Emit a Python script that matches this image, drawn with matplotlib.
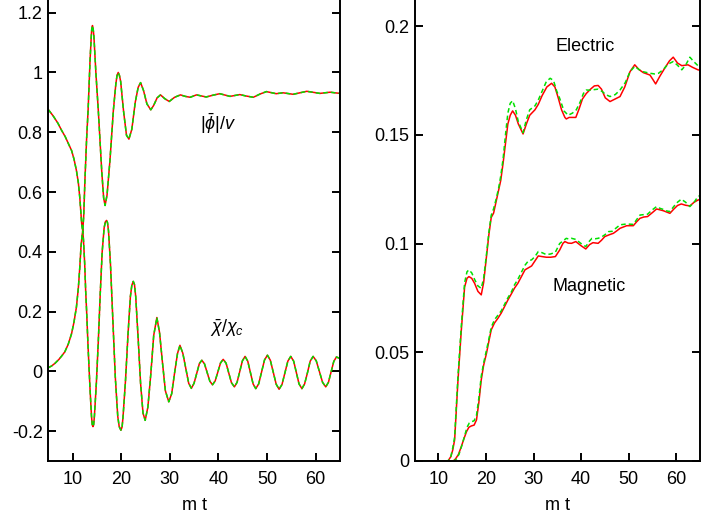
import matplotlib
matplotlib.use("Agg")
import matplotlib.pyplot as plt
from matplotlib.ticker import FormatStrFormatter

plt.rcParams['font.family'] = ['Liberation Sans Narrow', 'Liberation Sans', 'DejaVu Sans']
plt.rcParams['mathtext.fontset'] = 'custom'
plt.rcParams['mathtext.rm'] = 'Liberation Sans'
plt.rcParams['mathtext.it'] = 'Liberation Sans:italic'
plt.rcParams['axes.unicode_minus'] = False

# ---- left panel: |phi|/v and chi/chi_c vs m t ----
t_phi = [5, 6, 7, 7.76, 8.5, 9.2, 9.8, 10.3, 10.8, 11.2, 11.5, 11.9, 12.1, 12.3, 12.55,
         12.9, 13.2, 13.6, 13.85, 13.95, 14.1, 14.25, 14.4, 14.8, 15.3, 16.0, 16.4, 16.7,
         17.1, 17.7, 18.4, 18.9, 19.15, 19.4, 19.65, 19.9, 20.5, 21.1, 21.6, 22.2, 22.9,
         23.5, 24.0, 24.6, 25.3, 26.1, 26.7, 27.4, 28.1, 29.0, 29.9, 31.0, 32.2, 33.2, 34.2,
         35.5, 37.5, 38.9, 40.3, 42.4, 44.4, 45.8, 47.2, 48.6, 49.9, 51.9, 53.3, 55.4, 58.2,
         60.9, 63.0, 65]
phi = [0.876, 0.855, 0.83, 0.806, 0.785, 0.76, 0.739, 0.71, 0.672, 0.63, 0.58, 0.49, 0.47,
       0.52, 0.64, 0.78, 0.873, 1.04, 1.12, 1.145, 1.157, 1.145, 1.12, 1.0, 0.873, 0.672,
       0.58, 0.555, 0.59, 0.706, 0.873, 0.96, 0.99, 1.0, 0.99, 0.97, 0.87, 0.79, 0.777,
       0.81, 0.9, 0.95, 0.966, 0.94, 0.895, 0.875, 0.89, 0.915, 0.925, 0.912, 0.903, 0.917,
       0.925, 0.92, 0.917, 0.925, 0.918, 0.924, 0.929, 0.92, 0.926, 0.921, 0.917, 0.928,
       0.936, 0.929, 0.932, 0.927, 0.937, 0.93, 0.934, 0.93]

t_chi = [5, 5.7, 6.4, 7.2, 7.8, 8.4, 9.1, 9.8, 10.3, 10.8, 11.2, 11.5, 11.75, 12.0, 12.1,
         12.25, 12.5, 12.7, 12.9, 13.2, 13.6, 13.9, 14.05, 14.2, 14.35, 14.5, 14.9, 15.3,
         15.7, 16.1, 16.5, 16.75, 17.0, 17.2, 17.4, 17.8, 18.3, 18.8, 19.3, 19.6, 19.95,
         20.2, 20.4, 20.9, 21.4, 21.9, 22.2, 22.5, 22.75, 23.0, 23.5, 24.0, 24.5, 24.95,
         25.5, 26.1, 26.7, 27.35, 27.9, 28.5, 29.1, 29.8, 30.4, 31.0, 31.6, 32.1, 32.7, 33.3,
         33.9, 34.45, 35.0, 35.5, 36.1, 36.6,
         37.15, 37.7, 38.25, 38.8, 39.35, 39.9, 40.45, 41.0, 41.6, 42.15, 42.7, 43.3,
         43.85, 44.4, 44.95, 45.5, 46.05, 46.6, 47.15, 47.7, 48.3, 48.9, 49.5, 50.1,
         50.7, 51.3, 51.9, 52.5, 53.1, 53.7, 54.3, 54.9, 55.5, 56.05, 56.6, 57.2,
         57.75, 58.35, 58.9, 59.5, 60.15, 60.8, 61.45, 62.1, 62.65, 63.2, 63.75, 64.3, 65]
chi = [0.012, 0.018, 0.027, 0.04, 0.052, 0.065, 0.09, 0.126, 0.165, 0.215, 0.28, 0.35,
       0.42, 0.46, 0.47, 0.44, 0.36, 0.27, 0.2, 0.08, -0.06, -0.15, -0.178, -0.185, -0.178,
       -0.15, -0.04, 0.1, 0.26, 0.4, 0.48, 0.5, 0.505, 0.497, 0.47, 0.36, 0.17, -0.02,
       -0.15, -0.185, -0.197, -0.186, -0.15, -0.03, 0.12, 0.25, 0.288, 0.301, 0.29, 0.25,
       0.11, -0.04, -0.14, -0.164, -0.12, -0.01, 0.12, 0.18, 0.13, 0.03, -0.065, -0.102,
       -0.075, -0.005, 0.06, 0.087, 0.06, 0.01, -0.04, -0.057, -0.04, -0.01, 0.026, 0.037,
       0.025, -0.004, -0.033, -0.045, -0.032, -0.002, 0.028, 0.040, 0.027, -0.006, -0.038,
       -0.052, -0.037, -0.001, 0.035, 0.050, 0.034, -0.004, -0.042, -0.058, -0.042, -0.002,
       0.038, 0.054, 0.037, -0.003, -0.043, -0.060, -0.044, -0.005, 0.034, 0.050, 0.034,
       -0.004, -0.042, -0.058, -0.042, -0.004, 0.034, 0.050, 0.035, -0.001, -0.037, -0.052,
       -0.037, -0.002, 0.033, 0.048, 0.043]

# ---- right panel: electric and magnetic energies (red solid, green dashed) ----
t_el_red = [5, 12.0, 12.6, 13.0, 13.4, 14.1, 14.8, 15.5, 16.0, 16.4, 17.0, 17.6, 18.3, 19.0,
            19.5, 20.1, 20.6, 21.1, 21.6, 22.2, 22.7, 23.1, 23.6, 24.1, 24.6, 25.1, 25.6,
            26.2, 26.8, 27.8, 28.5, 29.2, 30.3, 31.0, 31.8, 32.8, 33.8, 34.5, 35.2, 35.9,
            36.6, 36.9, 37.5, 38.3, 38.9, 39.6, 40.3, 41.1, 42.0, 42.8, 43.6, 44.3, 45.1,
            46.1, 47.2, 48.2, 49.2, 50.3, 51.3, 52.2, 53.1, 54.5, 55.1, 55.7, 56.6, 57.6,
            58.6, 59.4, 60.3, 61.2, 61.9, 62.5, 63.5, 64.6, 65]
el_red = [0, 0, 0.002, 0.005, 0.0097, 0.037, 0.060, 0.080, 0.0840, 0.0848, 0.0840, 0.0817,
          0.078, 0.0764, 0.082, 0.094, 0.104, 0.112, 0.114, 0.12, 0.125, 0.129, 0.137, 0.146,
          0.155, 0.159, 0.161, 0.159, 0.155, 0.1504, 0.155, 0.159, 0.1615, 0.164, 0.168,
          0.172, 0.1737, 0.172, 0.167, 0.1615, 0.158, 0.1573, 0.158, 0.158, 0.158, 0.162,
          0.1665, 0.169, 0.171, 0.1725, 0.1727, 0.171, 0.167, 0.1653, 0.1665, 0.1676, 0.172,
          0.179, 0.1822, 0.180, 0.1786, 0.1775, 0.1755, 0.1734, 0.177, 0.1806, 0.184, 0.1857,
          0.183, 0.1818, 0.182, 0.1822, 0.181, 0.1799, 0.1797]

t_el_green = [5, 12.0, 12.6, 13.0, 13.4, 14.1, 14.8, 15.5, 16.0, 16.4, 17.0, 17.6, 18.3, 19.0,
              19.5, 20.1, 20.6, 21.1, 21.6, 22.2, 22.7, 23.1, 23.6, 24.1, 24.6, 25.1, 25.6,
              26.2, 26.8, 27.8, 28.5, 29.2, 30.3, 31.0, 31.8, 32.7, 33.5, 34.2, 34.9, 35.5,
              36.4, 37.3, 38.2, 39.0, 39.8, 40.5, 41.1, 42.0, 42.8, 43.6, 44.4, 45.2, 46.1,
              47.2, 48.2, 49.3, 50.3, 51.3, 52.2, 53.1, 54.5, 55.5, 56.3, 57.3, 58.3, 59.4,
              60.3, 61.2, 62.0, 62.9, 63.8, 64.6, 65]
el_green = [0, 0, 0.002, 0.006, 0.011, 0.039, 0.062, 0.082, 0.087, 0.0879, 0.0865, 0.0835,
            0.0805, 0.0794, 0.084, 0.095, 0.105, 0.113, 0.116, 0.121, 0.126, 0.131, 0.139,
            0.150, 0.160, 0.1645, 0.1657, 0.162, 0.156, 0.151, 0.157, 0.1615, 0.1633, 0.166,
            0.170, 0.1745, 0.176, 0.175, 0.170, 0.1668, 0.161, 0.159, 0.160, 0.1615, 0.165,
            0.169, 0.1706, 0.1705, 0.1708, 0.171, 0.170, 0.1685, 0.1676, 0.1685, 0.1706, 0.174,
            0.179, 0.1815, 0.180, 0.179, 0.1783, 0.178, 0.1783, 0.180, 0.1825, 0.1837, 0.182,
            0.1799, 0.182, 0.1857, 0.1835, 0.1818, 0.181]

t_mag_red = [5, 13.1, 13.6, 14.2, 14.8, 15.4, 15.9, 16.4, 16.9, 17.5, 18.0, 18.5, 19.0, 19.5,
             20.1, 20.6, 21.1, 21.8, 22.5, 23.2, 23.9, 24.6, 25.4, 26.0, 26.7, 27.5, 28.2,
             28.9, 29.6, 30.3, 31.0, 31.8, 32.7, 33.6, 34.6, 35.5, 36.2, 36.6, 37.3, 38.0,
             38.9, 40.0, 41.0, 41.8, 42.5, 43.6, 44.3, 45.0, 45.9, 46.8, 47.5, 48.2, 49.6,
             51.0, 51.7, 52.4, 53.2, 54.0, 55.0, 55.9, 56.6, 57.3, 58.0, 58.7, 59.5, 60.3,
             61.1, 62.0, 62.9, 63.8, 64.6, 65]
mag_red = [0, 0, 0.001, 0.003, 0.0066, 0.0105, 0.0135, 0.0155, 0.0161, 0.0165, 0.0189, 0.027,
           0.0373, 0.044, 0.0495, 0.055, 0.0603, 0.0635, 0.0656, 0.068, 0.071, 0.074, 0.0771,
           0.0795, 0.0817, 0.085, 0.0879, 0.0888, 0.0897, 0.092, 0.0943, 0.094, 0.0937, 0.0937,
           0.094, 0.097, 0.1001, 0.1009, 0.1002, 0.1001, 0.1009, 0.099, 0.0975, 0.0995, 0.1004,
           0.1001, 0.1015, 0.1032, 0.104, 0.1047, 0.1058, 0.107, 0.1082, 0.1082, 0.110, 0.1116,
           0.1122, 0.1124, 0.1142, 0.1159, 0.1155, 0.1151, 0.1145, 0.1139, 0.1158, 0.1175,
           0.1182, 0.1176, 0.1173, 0.119, 0.120, 0.1202]

t_mag_green = [5, 13.3, 13.8, 14.3, 14.9, 15.5, 16.0, 16.5, 16.9, 17.5, 18.0, 18.5, 19.0,
               19.5, 20.1, 20.6, 21.1, 21.8, 22.5, 23.2, 23.9, 24.6, 25.4, 26.0, 26.7, 27.5,
               28.2, 28.9, 29.6, 30.3, 31.0, 31.8, 32.7, 33.6, 34.6, 35.5, 36.2, 36.9, 37.5,
               38.0, 38.9, 40.0, 41.0, 41.8, 42.3, 43.0, 43.6, 44.3, 45.0, 45.8, 46.5, 47.3,
               48.2, 49.6, 51.0, 51.7, 52.4, 53.2, 54.0, 55.0, 55.9, 56.6, 57.3, 58.0, 58.7,
               59.5, 60.3, 61.1, 62.0, 62.9, 63.8, 64.6, 65]
mag_green = [0, 0, 0.001, 0.003, 0.0070, 0.0115, 0.0155, 0.0175, 0.018, 0.0185, 0.021, 0.029,
             0.039, 0.045, 0.051, 0.056, 0.0615, 0.065, 0.067, 0.069, 0.072, 0.075, 0.078,
             0.081, 0.0835, 0.087, 0.090, 0.092, 0.0925, 0.094, 0.0963, 0.0958, 0.0949, 0.0952,
             0.096, 0.100, 0.1012, 0.1024, 0.102, 0.1024, 0.1019, 0.100, 0.0986, 0.1012, 0.1024,
             0.1022, 0.1024, 0.103, 0.104, 0.1055, 0.1056, 0.107, 0.1086, 0.109, 0.1088, 0.111,
             0.1131, 0.1133, 0.1135, 0.1155, 0.117, 0.1162, 0.1157, 0.115, 0.1147, 0.117, 0.119,
             0.1204, 0.119, 0.117, 0.119, 0.1216, 0.122]

RED = '#ff0000'
GREEN = '#00e000'
LW = 1.1
DASH = (0, (3, 2))

fig = plt.figure(figsize=(7.2, 5.2), dpi=100)
ax1 = fig.add_axes([0.067, 0.1135, 0.405, 0.8865])
ax2 = fig.add_axes([0.576, 0.1135, 0.396, 0.8865])

# left panel
ax1.plot(t_phi, phi, color=RED, lw=LW)
ax1.plot(t_phi, phi, color=GREEN, lw=LW, linestyle=DASH)
ax1.plot(t_chi, chi, color=RED, lw=LW)
ax1.plot(t_chi, chi, color=GREEN, lw=LW, linestyle=DASH)
ax1.set_xlim(5, 65)
ax1.set_ylim(-0.3, 1.2425)
ax1.set_yticks([-0.2, 0, 0.2, 0.4, 0.6, 0.8, 1, 1.2])
ax1.text(40.0, 0.83, r'$|\bar{\phi}|/v$', fontsize=13, ha='center', va='center')
ax1.text(41.7, 0.144, r'$\bar{\chi}/\chi_c$', fontsize=13, ha='center', va='center')

# right panel
ax2.plot(t_el_red, el_red, color=RED, lw=LW)
ax2.plot(t_el_green, el_green, color=GREEN, lw=LW, linestyle=DASH)
ax2.plot(t_mag_red, mag_red, color=RED, lw=LW)
ax2.plot(t_mag_green, mag_green, color=GREEN, lw=LW, linestyle=DASH)
ax2.set_xlim(5, 65)
ax2.set_ylim(0, 0.212)
ax2.set_yticks([0, 0.05, 0.1, 0.15, 0.2])
ax2.text(40.8, 0.1906, 'Electric', fontsize=13, ha='center', va='center')
ax2.text(41.8, 0.0802, 'Magnetic', fontsize=13, ha='center', va='center')

for ax in (ax1, ax2):
    ax.set_xticks([10, 20, 30, 40, 50, 60])
    ax.xaxis.set_major_formatter(FormatStrFormatter('%g'))
    ax.yaxis.set_major_formatter(FormatStrFormatter('%g'))
    ax.spines['top'].set_visible(False)
    for s in ('left', 'right', 'bottom'):
        ax.spines[s].set_linewidth(1.4)
    ax.tick_params(axis='both', direction='in', length=6, width=1.4, labelsize=13)
    ax.tick_params(axis='y', right=True, pad=4)
    ax.tick_params(axis='x', top=False, pad=7)
    ax.set_xlabel('m t', fontsize=13, labelpad=7)

fig.savefig('out.png', dpi=100)
